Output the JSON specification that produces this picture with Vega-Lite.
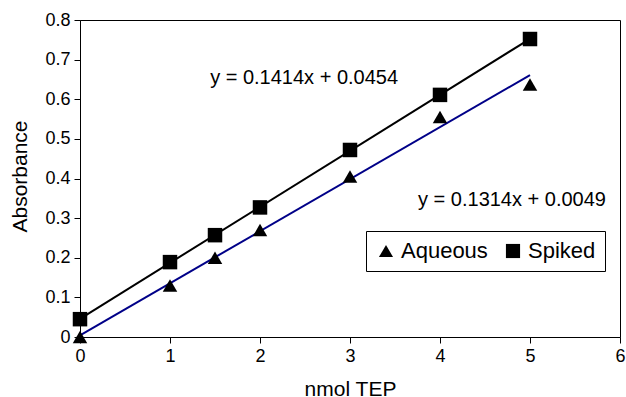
{
  "$schema": "https://vega.github.io/schema/vega-lite/v6.json",
  "width": 540,
  "height": 317,
  "autosize": "none",
  "padding": {"left": 80, "top": 20, "right": 6, "bottom": 60},
  "background": "white",
  "config": {
    "font": "Liberation Sans",
    "view": {"stroke": "black", "strokeWidth": 1}
  },
  "datasets": {
    "pts": [
      {"nmol": 0, "abs": 0.0, "series": "Aqueous"},
      {"nmol": 1, "abs": 0.13, "series": "Aqueous"},
      {"nmol": 1.5, "abs": 0.2, "series": "Aqueous"},
      {"nmol": 2, "abs": 0.27, "series": "Aqueous"},
      {"nmol": 3, "abs": 0.405, "series": "Aqueous"},
      {"nmol": 4, "abs": 0.555, "series": "Aqueous"},
      {"nmol": 5, "abs": 0.637, "series": "Aqueous"},
      {"nmol": 0, "abs": 0.045, "series": "Spiked"},
      {"nmol": 1, "abs": 0.189, "series": "Spiked"},
      {"nmol": 1.5, "abs": 0.257, "series": "Spiked"},
      {"nmol": 2, "abs": 0.327, "series": "Spiked"},
      {"nmol": 3, "abs": 0.472, "series": "Spiked"},
      {"nmol": 4, "abs": 0.611, "series": "Spiked"},
      {"nmol": 5, "abs": 0.752, "series": "Spiked"}
    ],
    "labels": [
      {"nmol": 2.49, "abs": 0.654, "label": "y = 0.1414x + 0.0454"},
      {"nmol": 4.8, "abs": 0.346, "label": "y = 0.1314x + 0.0049"}
    ]
  },
  "encoding": {
    "x": {"field": "nmol", "type": "quantitative", "scale": {"domain": [0, 6]},
      "axis": {"values": [0,1,2,3,4,5,6], "format": "d", "grid": false, "domainColor": "black", "tickColor": "black", "labelColor": "black", "titleColor": "black", "labelFontSize": 18, "titleFontSize": 21, "titleFontWeight": "normal", "tickSize": 6, "labelPadding": 4, "labelOverlap": false, "labelFlush": false, "title": "nmol TEP", "titleY": 52, "titleBaseline": "middle"}},
    "y": {"field": "abs", "type": "quantitative", "scale": {"domain": [0, 0.8]},
      "axis": {"values": [0,0.1,0.2,0.3,0.4,0.5,0.6,0.7,0.8], "format": ".1~f", "grid": false, "domainColor": "black", "tickColor": "black", "labelColor": "black", "titleColor": "black", "labelFontSize": 18, "titleFontSize": 21, "titleFontWeight": "normal", "tickSize": 6, "labelPadding": 4, "labelOverlap": false, "labelFlush": false, "title": "Absorbance", "titleX": -60, "titleY": 156, "titleAngle": -90, "titleAlign": "center", "titleBaseline": "middle"}}
  },
  "layer": [
    {
      "data": {"name": "pts"},
      "transform": [{"regression": "abs", "on": "nmol", "groupby": ["series"], "method": "linear", "extent": [0, 5]}],
      "mark": {"type": "line", "strokeWidth": 2},
      "encoding": {
        "stroke": {"field": "series", "type": "nominal", "scale": {"domain": ["Spiked", "Aqueous"], "range": ["black", "#000088"]}, "legend": null}
      }
    },
    {
      "data": {"name": "pts"},
      "mark": {"type": "point", "filled": true, "opacity": 1, "size": 210},
      "encoding": {
        "color": {"value": "black"},
        "shape": {"field": "series", "type": "nominal", "scale": {"domain": ["Aqueous", "Spiked"], "range": ["triangle-up", "square"]},
          "legend": {"title": null, "orient": "none", "legendX": 286, "legendY": 211, "direction": "horizontal", "strokeColor": "black", "fillColor": "white", "padding": 9, "labelFontSize": 22, "labelColor": "black", "symbolFillColor": "black", "symbolStrokeColor": "black", "symbolSize": 200, "columnPadding": 14, "labelOffset": 4}}
      }
    },
    {
      "data": {"name": "labels"},
      "mark": {"type": "text", "fontSize": 20, "color": "black", "align": "center", "baseline": "middle"},
      "encoding": {
        "text": {"field": "label"}
      }
    }
  ]
}
